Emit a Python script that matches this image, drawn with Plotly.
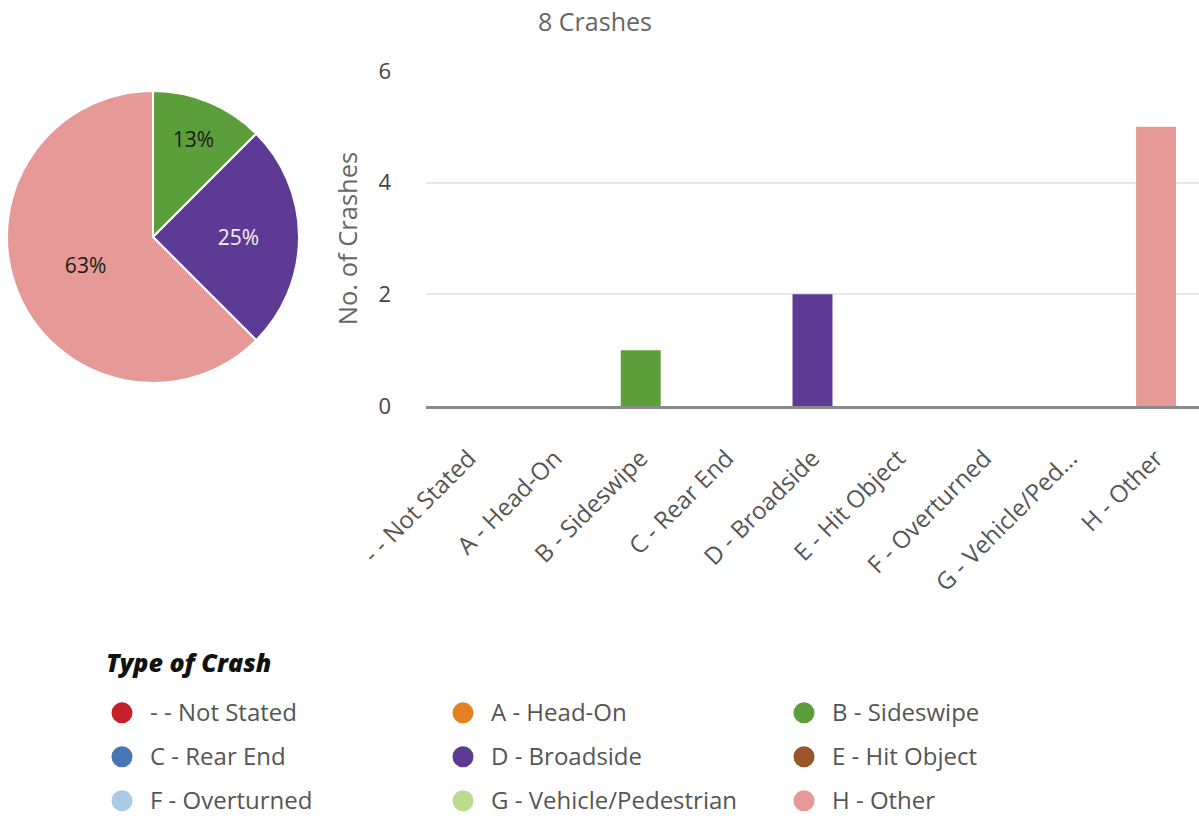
import plotly.graph_objects as go

categories = ["- - Not Stated", "A - Head-On", "B - Sideswipe", "C - Rear End", "D - Broadside",
              "E - Hit Object", "F - Overturned", "G - Vehicle/Pedestrian", "H - Other"]
tick_labels = ["- - Not Stated", "A - Head-On", "B - Sideswipe", "C - Rear End", "D - Broadside",
               "E - Hit Object", "F - Overturned", "G - Vehicle/Ped...", "H - Other"]
crash_counts = [0, 0, 1, 0, 2, 0, 0, 0, 5]
colors = ["#c8202a", "#e5801f", "#5c9f3a", "#4676b3", "#5d3b94",
          "#9a552b", "#a9cbe3", "#b9dc8f", "#e69a97"]
pie_text_colors = {"B - Sideswipe": "#1a1a1a", "D - Broadside": "#f2f2f2", "H - Other": "#1a1a1a"}

FONT = "Open Sans"
total = sum(crash_counts)

pie_labels = [c for c, v in zip(categories, crash_counts) if v > 0]
pie_values = [v for v in crash_counts if v > 0]
pie_colors = [col for col, v in zip(colors, crash_counts) if v > 0]

fig = go.Figure()

fig.add_trace(go.Pie(
    labels=pie_labels, values=pie_values, sort=False, direction="clockwise", rotation=0,
    marker=dict(colors=pie_colors, line=dict(color="white", width=2)),
    texttemplate="%{percent:.0%}", textposition="inside", insidetextorientation="horizontal",
    textfont=dict(family=FONT, size=21, color=[pie_text_colors.get(l, "#1a1a1a") for l in pie_labels]),
    domain=dict(x=[7 / 1199, 299 / 1199], y=[0.5318, 0.8888]),
    showlegend=False, hoverinfo="label+value+percent",
))

fig.add_trace(go.Bar(
    x=categories, y=crash_counts, marker=dict(color=colors, line=dict(width=0)),
    showlegend=False, name="Crashes",
))

# legend entries: two empty spacer lines above the visible name, symbol aligned to the bottom line
for name, col in zip(categories, colors):
    fig.add_trace(go.Scatter(
        x=[None], y=[None], mode="markers",
        name=f'<br><br><span style="font-size:24px;baseline-shift:-4px">{name}</span>',
        marker=dict(color=col, size=16, symbol="circle", line=dict(color=col, width=5)),
        showlegend=True, hoverinfo="skip",
    ))

legend_title = ('<span style="font-size:38px">&nbsp;</span>'
                '<span style="font-size:25px">Type of Crash</span>')

fig.update_layout(
    width=1199, height=818, autosize=False,
    margin=dict(l=0, r=0, t=0, b=0),
    paper_bgcolor="white", plot_bgcolor="white",
    font=dict(family=FONT, color="#555"),
    title=dict(text=f"{total} Crashes", x=595 / 1199, xanchor="center", y=1 - 22 / 818, yanchor="middle",
               font=dict(family=FONT, size=25, color="#666")),
    bargap=0.535,
    xaxis=dict(domain=[426 / 1199, 1.0], type="category", categoryorder="array", categoryarray=categories,
               tickvals=categories, ticktext=tick_labels, tickangle=-45,
               tickfont=dict(family=FONT, size=24, color="#555"), ticklabelstandoff=26,
               showgrid=False, showline=True, linecolor="#8a8a8a", linewidth=2.5, ticks="",
               zeroline=False, fixedrange=True, automargin=False),
    yaxis=dict(domain=[1 - 406 / 818, 1 - 71 / 818], range=[0, 6], dtick=2, tick0=0,
               showgrid=True, gridcolor="#e6e6e6", gridwidth=1.5, zeroline=False, ticks="",
               tickfont=dict(family=FONT, size=22, color="#444"), ticklabelstandoff=34,
               title=dict(text="No. of Crashes", font=dict(family=FONT, size=25.5, color="#666"), standoff=13),
               fixedrange=True, automargin=False),
    legend=dict(orientation="h", x=94 / 1199, xanchor="left", y=1 - 641 / 818, yanchor="top",
                entrywidth=280, entrywidthmode="pixels", itemwidth=46, traceorder="normal",
                valign="bottom",
                font=dict(family=FONT, size=10.5, color="#555"),
                title=dict(text=legend_title, side="top",
                           font=dict(family=FONT, size=24, color="#111", weight=800, style="italic")),
                bgcolor="rgba(0,0,0,0)", borderwidth=0),
)

fig.write_html("out.html")
